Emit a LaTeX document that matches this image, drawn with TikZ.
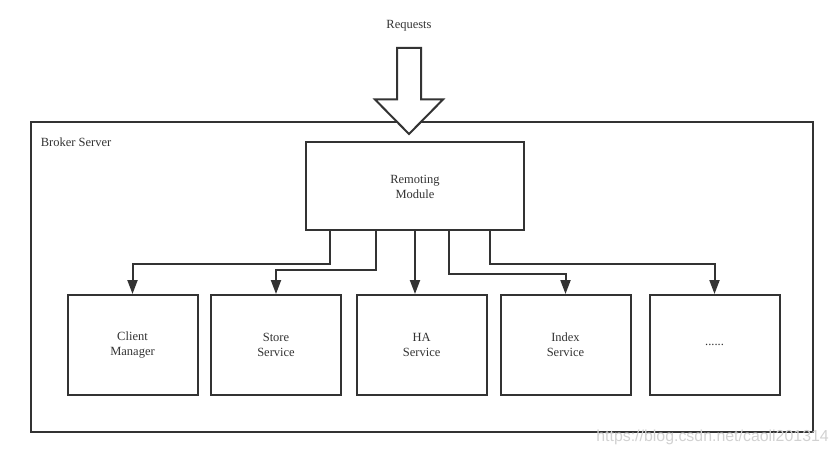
\documentclass[tikz,border=0pt]{standalone}
\usepackage{fontspec}
\setmainfont{Liberation Serif}
\newfontfamily\wmfont{Liberation Sans}
\usetikzlibrary{arrows.meta,calc}
\definecolor{ink}{HTML}{333333}
\tikzset{
  box/.style={draw=ink, line width=2pt, fill=white, align=center, font=\fontsize{12.5}{15}\selectfont, text=ink, inner sep=0pt},
  conn/.style={draw=ink, line width=2pt, -{Triangle[length=14pt,width=10pt]}},
  lbl/.style={font=\fontsize{12.5}{15}\selectfont, text=ink, inner sep=0pt}
}
\begin{document}
\begin{tikzpicture}[x=1pt,y=-1pt]
\useasboundingbox (0,0) rectangle (837,454);
% outer server box
\node[box, minimum width=782pt, minimum height=310pt] (srv) at (422,277) {};
\node[lbl, anchor=west] (srvlbl) at (40.7,142) {Broker Server};
% requests arrow
\node[lbl] (req) at (409,26) {Requests};
\coordinate (tip) at (409,134);
\draw[ink, line width=2pt, fill=white, line join=miter]
  (397,48) -- (421,48) -- (421,99.5) -- (443,99.5) -- (tip) -- (375,99.5) -- (397,99.5) -- cycle;
% remoting module
\node[box, minimum width=218pt, minimum height=88pt] (rm) at (415,186.5) {Remoting\\Module};
% bottom boxes
\node[box, minimum width=130pt, minimum height=100pt] (cm) at (132.5,345) {Client\\Manager};
\node[box, minimum width=130pt, minimum height=100pt] (ss) at (276,345) {Store\\Service};
\node[box, minimum width=130pt, minimum height=100pt] (ha) at (421.7,345) {HA\\Service};
\node[box, minimum width=130pt, minimum height=100pt] (is) at (565.5,345) {Index\\Service};
\node[box, minimum width=130pt, minimum height=100pt] (dt) at (714.5,345) {......};
% connectors
\draw[conn] ([xshift=-85pt]rm.south) -- ++(0,32) -| (cm.north);
\draw[conn] ([xshift=-39.3pt]rm.south) -- ++(0,38.6) -| (ss.north);
\draw[conn] (rm.south) -- (rm.south |- ha.north);
\draw[conn] ([xshift=34pt]rm.south) -- ++(0,42) -| (is.north);
\draw[conn] ([xshift=75pt]rm.south) -- ++(0,32) -| (dt.north);
% watermark
\node[font=\wmfont\fontsize{15.9}{18}\selectfont, text=black!18, anchor=east, inner sep=0pt] (wm) at (829,437) {https://blog.csdn.net/caoli201314};
\end{tikzpicture}
\end{document}
